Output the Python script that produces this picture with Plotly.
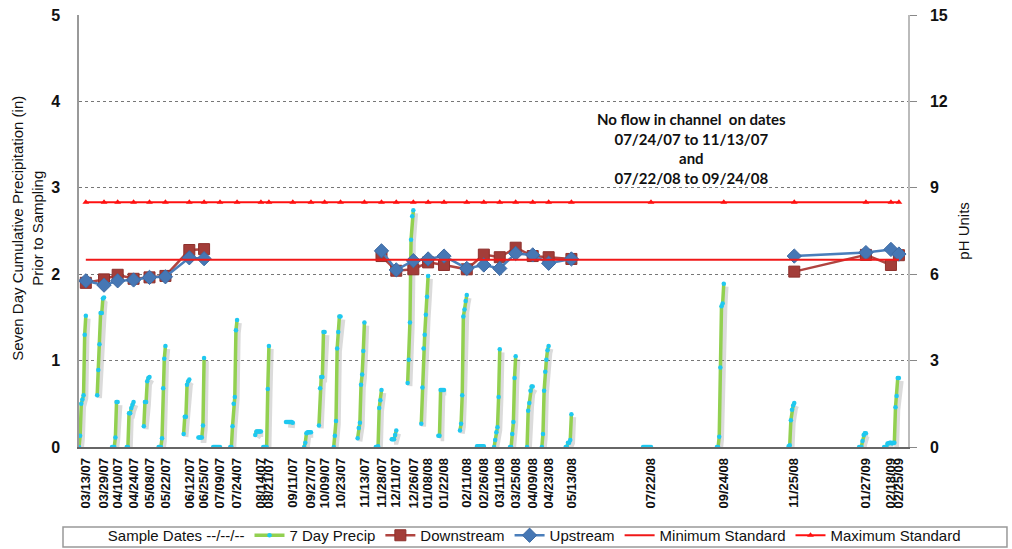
import plotly.graph_objects as go
from datetime import date, timedelta

# Sampling dates and their axis labels
sample_dates = [
    "2007-03-13", "2007-03-29", "2007-04-10", "2007-04-24", "2007-05-08", "2007-05-22",
    "2007-06-12", "2007-06-25", "2007-07-09", "2007-07-24", "2007-08-14", "2007-08-21",
    "2007-09-11", "2007-09-27", "2007-10-09", "2007-10-23", "2007-11-13", "2007-11-28",
    "2007-12-11", "2007-12-26", "2008-01-08", "2008-01-22", "2008-02-11", "2008-02-26",
    "2008-03-11", "2008-03-25", "2008-04-09", "2008-04-23", "2008-05-13", "2008-07-22",
    "2008-09-24", "2008-11-25", "2009-01-27", "2009-02-18", "2009-02-25",
]
tick_labels = [
    "03/13/07", "03/29/07", "04/10/07", "04/24/07", "05/08/07", "05/22/07",
    "06/12/07", "06/25/07", "07/09/07", "07/24/07", "08/14/07", "08/21/07",
    "09/11/07", "09/27/07", "10/09/07", "10/23/07", "11/13/07", "11/28/07",
    "12/11/07", "12/26/07", "01/08/08", "01/22/08", "02/11/08", "02/26/08",
    "03/11/08", "03/25/08", "04/09/08", "04/23/08", "05/13/08", "07/22/08",
    "09/24/08", "11/25/08", "01/27/09", "02/18/09", "02/25/09",
]

# pH readings (None = no flow in channel)
downstream_ph = [
    5.70, 5.82, 5.98, 5.84, 5.89, 5.94, 6.84, 6.87, None, None, None, None,
    None, None, None, None, None, 6.63, 6.12, 6.17, 6.41, 6.32, 6.17, 6.68,
    6.59, 6.92, 6.63, 6.59, 6.53, None, None, 6.09, 6.67, 6.32, 6.66,
]
upstream_ph = [
    5.77, 5.62, 5.77, 5.80, 5.89, 5.91, 6.57, 6.54, None, None, None, None,
    None, None, None, None, None, 6.81, 6.15, 6.47, 6.53, 6.63, 6.20, 6.32,
    6.20, 6.72, 6.67, 6.38, 6.53, None, None, 6.63, 6.75, 6.86, 6.70,
]
minimum_standard = [6.5] * len(sample_dates)
maximum_standard = [8.5] * len(sample_dates)

# Daily running 7-day precipitation (in), days leading up to each sample date
precip_7day = [
    [0, 0.13, 0.50, 0.55, 0.60, 1.30, 1.52],
    [0.60, 0.89, 1.19, 1.55, 1.55, 1.72, 1.73],
    [0, 0, 0, 0.11, 0.52, 0.52],
    [0, 0, 0.39, 0.39, 0.45, 0.49, 0.52],
    [0.24, 0.52, 0.52, 0.76, 0.80, 0.81],
    [0, 0, 0, 0.10, 0.68, 1.02, 1.17],
    [0.15, 0.35, 0.35, 0.72, 0.76, 0.78],
    [0.11, 0.11, 0.11, 0.11, 0.25, 1.03],
    [0, 0, 0, 0, 0, 0, 0],
    [0, 0, 0.24, 0.50, 0.58, 1.35, 1.47],
    [0.14, 0.18, 0.18, 0.18, 0.18, 0.18],
    [0, 0, 0, 0, 0.67, 1.17],
    [0.29, 0.29, 0.29, 0.29, 0.29, 0.29, 0.28],
    [0, 0.05, 0.16, 0.17, 0.17, 0.17, 0.17],
    [0.25, 0.68, 0.81, 0.81, 1.33, 1.33],
    [0, 0.13, 0.30, 1.14, 1.33, 1.51, 1.51],
    [0.10, 0.22, 0.28, 0.72, 0.84, 1.11, 1.44],
    [0, 0, 0.01, 0.45, 0.54, 0.66],
    [0.09, 0.09, 0.09, 0.14, 0.19],
    [0.74, 1.01, 1.44, 2.40, 2.67, 2.74],
    [0.27, 0.69, 1.14, 1.30, 1.53, 1.74, 1.98],
    [0.13, 0.13, 0.66, 0.66, 0.66, 0.66],
    [0.19, 0.27, 0.60, 1.51, 1.59, 1.69, 1.76],
    [0.01, 0.01, 0.01, 0.01, 0.01, 0.01, 0.01],
    [0, 0.08, 0.17, 0.23, 0.58, 1.13],
    [0, 0, 0.15, 0.29, 0.80, 1.05],
    [0, 0.42, 0.51, 0.65, 0.70, 0.70],
    [0, 0.15, 0.65, 0.87, 1.01, 1.12, 1.17],
    [0, 0, 0.05, 0.05, 0.08, 0.38],
    [0, 0, 0, 0, 0, 0, 0, 0],
    [0, 0, 0.12, 0.92, 1.63, 1.66, 1.89],
    [0.01, 0.02, 0.31, 0.43, 0.48, 0.51],
    [0, 0, 0, 0.07, 0.14, 0.16, 0.16],
    [0, 0, 0, 0.04, 0.04, 0.05, 0.05],
    [0.04, 0.05, 0.05, 0.46, 0.59, 0.80, 0.80],
]

note_text = ("No flow in channel  on dates<br>07/24/07 to 11/13/07<br>and<br>"
             "07/22/08 to 09/24/08")

# Flatten the per-sample runs into one gapped series
precip_x, precip_y = [], []
for d, vals in zip(sample_dates, precip_7day):
    end = date.fromisoformat(d)
    n = len(vals)
    for i, v in enumerate(vals):
        precip_x.append(end - timedelta(days=n - 1 - i))
        precip_y.append(v)
    precip_x.append(None)
    precip_y.append(None)

# soft drop shadow under the precipitation runs
shadow_x = [None if t is None else t + timedelta(days=2) for t in precip_x]
shadow_y = [None if v is None else v - 0.035 for v in precip_y]

font = "Liberation Sans, Arial, sans-serif"
fig = go.Figure()

fig.add_trace(go.Scatter(
    x=sample_dates, y=[None] * len(sample_dates), mode="lines",
    line=dict(color="rgba(0,0,0,0)", width=0), name="Sample Dates --/--/--",
    hoverinfo="skip",
))
fig.add_trace(go.Scatter(
    x=shadow_x, y=shadow_y, mode="lines", showlegend=False, hoverinfo="skip",
    line=dict(color="rgba(90,90,90,0.22)", width=5),
))
fig.add_trace(go.Scatter(
    x=precip_x, y=precip_y, mode="lines+markers", name="7 Day Precip",
    line=dict(color="#92D050", width=3.5),
    marker=dict(color="#1FC8F0", size=4.5, symbol="circle"),
    connectgaps=False,
))
fig.add_trace(go.Scatter(
    x=sample_dates, y=downstream_ph, mode="lines+markers", name="Downstream", yaxis="y2",
    line=dict(color="#B04440", width=2.5),
    marker=dict(color="#A33D39", size=11, symbol="square",
                line=dict(color="#8E302C", width=1)),
))
fig.add_trace(go.Scatter(
    x=sample_dates, y=upstream_ph, mode="lines+markers", name="Upstream", yaxis="y2",
    line=dict(color="#4A7EBB", width=2.5),
    marker=dict(color="#4677B4", size=11, symbol="diamond",
                line=dict(color="#3D6AA3", width=1)),
))
fig.add_trace(go.Scatter(
    x=sample_dates, y=minimum_standard, mode="lines", name="Minimum Standard", yaxis="y2",
    line=dict(color="#F01818", width=2),
))
fig.add_trace(go.Scatter(
    x=sample_dates, y=maximum_standard, mode="lines+markers", name="Maximum Standard",
    yaxis="y2", line=dict(color="#FF1010", width=2),
    marker=dict(color="#FF1010", size=6, symbol="triangle-up"),
))

fig.add_annotation(
    x=0.739, y=0.692, xref="paper", yref="paper", showarrow=False,
    xanchor="center", yanchor="middle", text="<b>" + note_text + "</b>",
    font=dict(family="Lato, sans-serif", size=15, color="#111"), align="center",
)
fig.add_annotation(
    x=-0.0615, y=0.505, xref="paper", yref="paper", showarrow=False, textangle=-90,
    xanchor="center", yanchor="middle",
    text="Seven Day Cumulative Precipitation (in)<br>Prior to Sampling",
    font=dict(family=font, size=15, color="#111"), align="center",
)
fig.add_annotation(
    x=1.066, y=0.5, xref="paper", yref="paper", showarrow=False, textangle=-90,
    xanchor="center", yanchor="middle",
    text="pH Units", font=dict(family=font, size=15, color="#111"),
)

# frame around the legend row
fig.add_shape(
    type="rect", xref="paper", yref="paper",
    x0=-0.0193, x1=1.1194, y0=-0.2315, y1=-0.1852,
    line=dict(color="#999", width=1.5), fillcolor="white", layer="below",
)

fig.update_layout(
    width=1012, height=549, autosize=False,
    margin=dict(l=79, r=104, t=15, b=102, autoexpand=False),
    paper_bgcolor="white", plot_bgcolor="white",
    font=dict(family=font, color="#111"),
    xaxis=dict(
        type="date", range=["2007-03-07", "2009-03-05"],
        tickvals=sample_dates, ticktext=tick_labels, tickangle=-90,
        tickfont=dict(family=font, size=13, color="#111", weight="bold"),
        showgrid=False, zeroline=False, showline=True, linecolor="#666", linewidth=1.5,
        ticks="", ticklabelstandoff=4, automargin=False,
    ),
    yaxis=dict(
        range=[0, 5], dtick=1, tickvals=[0, 1, 2, 3, 4, 5],
        tickfont=dict(family=font, size=16, color="#111", weight="bold"),
        showgrid=True, gridcolor="#777", griddash="3px,3px", gridwidth=1,
        zeroline=False, showline=True, linecolor="#999", linewidth=1.5,
        ticks="", ticklabelstandoff=14, automargin=False,
    ),
    yaxis2=dict(
        range=[0, 15], tickvals=[0, 3, 6, 9, 12, 15], overlaying="y", side="right",
        tickfont=dict(family=font, size=16, color="#111", weight="bold"),
        showgrid=False, zeroline=False, showline=True, linecolor="#bbb", linewidth=1.5,
        ticks="outside", ticklen=7, tickcolor="#888", ticklabelstandoff=10,
        automargin=False,
    ),
    legend=dict(
        orientation="h", x=-0.0135, y=-0.1667, xanchor="left", yanchor="top",
        borderwidth=0, bgcolor="rgba(0,0,0,0)",
        font=dict(family=font, size=15, color="#111"),
        tracegroupgap=0, itemwidth=30,
    ),
)

fig.write_html("out.html")
